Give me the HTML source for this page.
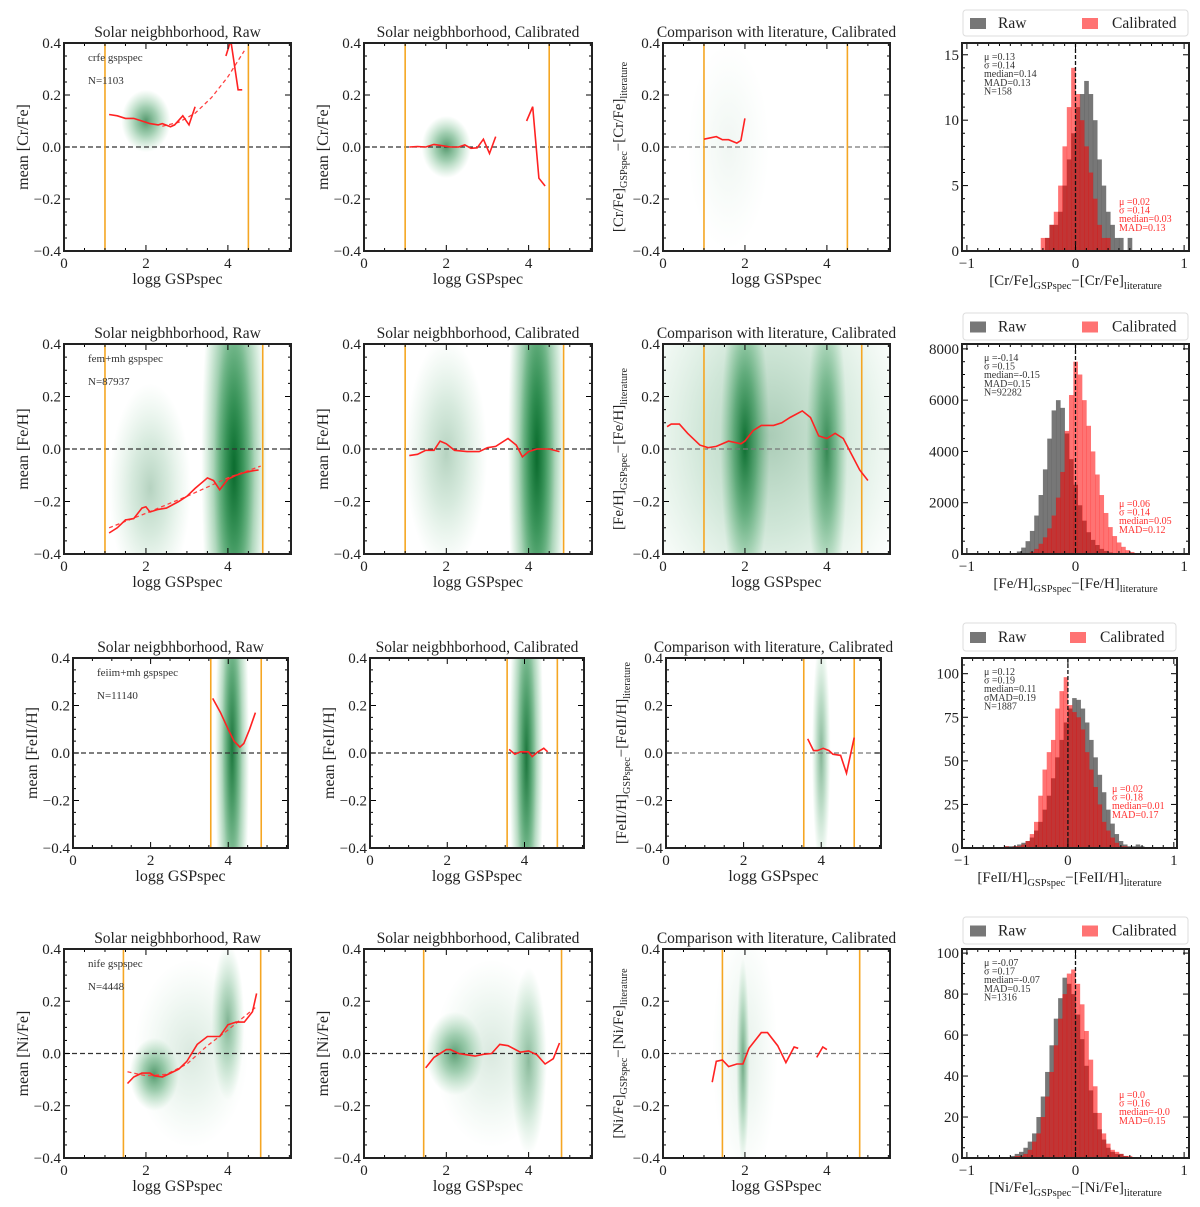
<!DOCTYPE html>
<html><head><meta charset="utf-8">
<style>
html,body{margin:0;padding:0;background:#fff;}
svg{display:block;font-family:"Liberation Serif",serif;}
</style></head>
<body>
<svg id="fig" width="1200" height="1207" viewBox="0 0 1200 1207" xmlns="http://www.w3.org/2000/svg">
<defs>
<radialGradient id="blob" cx="0.5" cy="0.5" r="0.5">
<stop offset="0" stop-color="#0b6b2e" stop-opacity="1"/>
<stop offset="0.45" stop-color="#1f8a45" stop-opacity="0.6"/>
<stop offset="1" stop-color="#4caf6a" stop-opacity="0"/>
</radialGradient>
</defs>
</svg>
<script>
// ---------- data ----------
const elements = ["Cr/Fe", "Fe/H", "FeII/H", "Ni/Fe"];
const sampleTags = ["crfe gspspec", "fem+mh gspspec", "feiim+mh gspspec", "nife gspspec"];
const sampleN = ["N=1103", "N=87937", "N=11140", "N=4448"];
const loggCuts = [[1.0, 4.5], [1.0, 4.85], [3.55, 4.85], [1.45, 4.8]];

const rawCurve = [
  [[[1.1,0.125],[1.3,0.12],[1.5,0.11],[1.7,0.11],[1.9,0.10],[2.1,0.09],[2.3,0.085],[2.4,0.09],[2.6,0.078],[2.7,0.085],[2.9,0.12],[3.05,0.085],[3.2,0.155]],[[3.95,0.35],[4.07,0.41],[4.25,0.22],[4.35,0.22]]],
  [[[1.1,-0.32],[1.3,-0.3],[1.5,-0.27],[1.7,-0.265],[1.9,-0.225],[2.0,-0.22],[2.1,-0.24],[2.3,-0.23],[2.5,-0.225],[2.8,-0.2],[3.0,-0.18],[3.2,-0.15],[3.5,-0.11],[3.65,-0.12],[3.8,-0.155],[4.0,-0.115],[4.2,-0.1],[4.4,-0.09],[4.6,-0.083],[4.75,-0.08]]],
  [[[3.6,0.23],[3.8,0.17],[4.0,0.1],[4.15,0.05],[4.3,0.025],[4.4,0.04],[4.55,0.1],[4.7,0.17]]],
  [[[1.55,-0.115],[1.7,-0.09],[1.9,-0.075],[2.1,-0.075],[2.2,-0.085],[2.4,-0.09],[2.6,-0.075],[2.8,-0.06],[3.0,-0.03],[3.25,0.035],[3.5,0.065],[3.8,0.065],[4.0,0.11],[4.2,0.12],[4.4,0.12],[4.6,0.16],[4.7,0.23]]]
];
const fitCurve = [
  [[2.4,0.08],[2.8,0.095],[3.2,0.13],[3.6,0.19],[4.0,0.27],[4.4,0.37]],
  [[1.1,-0.3],[2.0,-0.245],[3.0,-0.18],[4.0,-0.11],[4.8,-0.065]],
  [],
  [[1.55,-0.07],[2.0,-0.085],[2.5,-0.08],[3.0,-0.04],[3.5,0.03],[4.0,0.09],[4.7,0.18]]
];
const calCurve = [
  [[[1.1,0.0],[1.3,0.002],[1.5,0.0],[1.7,0.01],[1.9,0.005],[2.1,0.0],[2.3,0.0],[2.45,0.008],[2.6,-0.005],[2.75,-0.003],[2.9,0.03],[3.05,-0.025],[3.2,0.04]],[[3.95,0.1],[4.1,0.155],[4.25,-0.12],[4.4,-0.15]]],
  [[[1.1,-0.025],[1.3,-0.02],[1.5,-0.005],[1.7,-0.005],[1.85,0.03],[2.0,0.02],[2.2,-0.005],[2.5,-0.01],[2.8,-0.01],[3.0,0.005],[3.2,0.01],[3.5,0.04],[3.7,0.015],[3.85,-0.03],[4.0,-0.01],[4.2,0.0],[4.5,0.0],[4.75,-0.01]]],
  [[[3.6,0.015],[3.75,-0.005],[3.9,0.005],[4.1,0.005],[4.2,-0.015],[4.35,0.005],[4.5,0.02],[4.6,0.005]]],
  [[[1.5,-0.055],[1.7,-0.015],[1.9,0.005],[2.0,0.015],[2.1,0.015],[2.3,0.0],[2.5,-0.005],[2.7,-0.01],[2.9,-0.003],[3.1,0.0],[3.3,0.035],[3.5,0.03],[3.8,0.005],[4.0,0.01],[4.2,-0.005],[4.4,-0.04],[4.6,-0.02],[4.75,0.04]]]
];
const litCurve = [
  [[[1.0,0.03],[1.3,0.04],[1.45,0.028],[1.6,0.028],[1.8,0.015],[1.9,0.025],[2.0,0.11]]],
  [[[0.1,0.085],[0.2,0.095],[0.4,0.095],[0.6,0.06],[0.9,0.015],[1.1,0.005],[1.3,0.01],[1.6,0.03],[1.9,0.02],[2.0,0.03],[2.2,0.07],[2.4,0.09],[2.7,0.09],[2.9,0.1],[3.1,0.12],[3.4,0.145],[3.6,0.12],[3.8,0.05],[4.0,0.04],[4.2,0.06],[4.4,0.04],[4.6,-0.02],[4.8,-0.08],[5.0,-0.12]]],
  [[[3.65,0.06],[3.8,0.01],[3.9,0.01],[4.05,0.02],[4.2,0.01],[4.3,-0.005],[4.5,-0.01],[4.65,-0.085],[4.85,0.065]]],
  [[[1.2,-0.11],[1.3,-0.03],[1.45,-0.025],[1.6,-0.05],[1.8,-0.04],[1.95,-0.04],[2.1,0.02],[2.4,0.08],[2.55,0.08],[2.8,0.03],[3.0,-0.035],[3.2,0.025],[3.3,0.02]],[[3.75,-0.015],[3.9,0.025],[4.0,0.015]]]
];
// density clouds [logg, value, sigmaLogg, sigmaValue, opacity]
const rawCloud = [
  [[2.0,0.1,0.3,0.06,0.7]],
  [[2.1,-0.15,0.5,0.2,0.3],[4.15,-0.05,0.4,0.5,1.0],[4.15,-0.1,0.25,0.3,0.7]],
  [[4.1,0.0,0.22,0.5,0.85],[4.1,0.05,0.13,0.3,0.5]],
  [[2.2,-0.08,0.3,0.07,0.7],[4.0,0.12,0.2,0.15,0.5],[3.1,0.0,0.7,0.18,0.15]]
];
const calCloud = [
  [[2.0,0.0,0.3,0.06,0.7]],
  [[2.0,-0.02,0.5,0.22,0.3],[4.2,0.0,0.35,0.55,1.0],[4.2,-0.05,0.22,0.3,0.7]],
  [[4.05,0.0,0.22,0.5,0.85],[4.05,-0.05,0.13,0.3,0.5]],
  [[2.2,0.0,0.35,0.08,0.65],[4.0,-0.03,0.22,0.18,0.45],[3.1,0.0,0.7,0.18,0.15]]
];
const litCloud = [
  [[1.6,0.0,0.5,0.2,0.06]],
  [[2.0,0.02,0.3,0.3,1.0],[4.0,0.0,0.25,0.3,0.8],[2.6,0.05,1.8,0.4,0.35]],
  [[4.0,0.0,0.12,0.25,0.5]],
  [[1.95,-0.03,0.08,0.2,0.55],[2.0,0.0,0.4,0.25,0.1]]
];

// histograms
const histBinWidth = [0.04, 0.04, 0.04, 0.04];
const histBinStart = [-0.4, -0.70, -0.60, -0.60];
const histRaw = [
  [0,0,0,1,2,2,3,5,7,9,11,12,13,12,10,7,5,3,2,1,1,0,1,0,0],
  [0,0,0,20,100,250,500,900,1500,2300,3300,4500,5600,6000,5700,4700,3700,2700,1900,1300,850,550,350,200,120,60,30,10,0,0,0,0,0,0,0],
  [1,1,1,2,3,4,6,10,15,22,30,40,52,62,72,80,86,85,80,72,62,52,42,32,22,14,8,4,2,1,1,2,1,0,0],
  [1,2,3,5,8,12,20,30,42,55,68,78,88,85,80,70,58,45,33,22,14,9,5,3,2,2,1,0,0,0]
];
const histCal = [
  [0,0,1,1,2,3,5,8,11,14,12,10,8,6,4,2,1,1,0,0,0,0,0,0,0],
  [0,0,0,0,0,0,20,80,200,400,650,1000,1500,2200,3200,4800,6200,7500,7000,6000,5000,4000,3100,2300,1600,1050,700,450,280,150,80,30,10,0,0],
  [1,0,1,1,2,4,8,15,30,45,55,62,80,90,98,82,78,75,68,55,45,35,25,15,10,6,3,1,1,0,0,0,0,0,0],
  [0,1,1,2,4,8,12,20,30,42,55,68,80,90,92,85,75,62,48,35,22,12,7,4,3,2,1,1,0,0]
];
const histYMax = [15.9, 8190, 109, 102];
const histYTicks = [[0,5,10,15],[0,2000,4000,6000,8000],[0,25,50,75,100],[0,20,40,60,80,100]];
const histYMinor = [1, 500, 5, 5];
const rawStats = [
  ["μ =0.13","σ =0.14","median=0.14","MAD=0.13","N=158"],
  ["μ =-0.14","σ =0.15","median=-0.15","MAD=0.15","N=92282"],
  ["μ =0.12","σ =0.19","median=0.11","σMAD=0.19","N=1887"],
  ["μ =-0.07","σ =0.17","median=-0.07","MAD=0.15","N=1316"]
];
const calStats = [
  ["μ =0.02","σ =0.14","median=0.03","MAD=0.13"],
  ["μ =0.06","σ =0.14","median=0.05","MAD=0.12"],
  ["μ =0.02","σ =0.18","median=0.01","MAD=0.17"],
  ["μ =0.0","σ =0.16","median=-0.0","MAD=0.15"]
];
const yTickVals = [-0.4,-0.2,0.0,0.2,0.4];
const yTickLabels = ["−0.4","−0.2","0.0","0.2","0.4"];
const xTickVals = [0,2,4];

// ---------- layout ----------
const rowsY = [[43,251],[344,554],[658,848],[949,1158]];
const colsX = [
  [[64,291],[364,592],[663,890],[962,1189]],
  [[64,291],[364,592],[663,890],[962,1189]],
  [[73,288],[370,584],[666,881],[962,1177]],
  [[64,291],[364,592],[663,890],[962,1189]]
];
const histXRange = [[-1.045,1.045],[-1.045,1.045],[-1.0,1.03],[-1.045,1.045]];
const legendY = [[10,36],[313,340],[623,651],[917,944]];
const XMAX = 5.54;

const NS = "http://www.w3.org/2000/svg";
const svg = document.getElementById("fig");
function mk(tag, attrs, parent){
  const e = document.createElementNS(NS, tag);
  for (const k in attrs) e.setAttribute(k, attrs[k]);
  (parent||svg).appendChild(e);
  return e;
}
let clipId = 0;

function frameAndTicks(g, x0, x1, y0, y1, xs, ys, xMaj, xMin, yMaj, yMin, xr, yr){
  for (let v = Math.ceil(xr[0]/xMin)*xMin; v <= xr[1]+1e-9; v += xMin){
    const px = xs(v);
    const major = xMaj.some(m => Math.abs(m - v) < 1e-6);
    const L = major ? 6 : 3;
    const t1 = mk("line",{x1:px,x2:px,y1:y1,y2:y1-L,stroke:"#000","stroke-width":1},g);
    
    
    const t2 = mk("line",{x1:px,x2:px,y1:y0,y2:y0+L,stroke:"#000","stroke-width":1},g);
    
    
  }
  for (let v = Math.ceil(yr[0]/yMin - 1e-9)*yMin; v <= yr[1]+1e-9; v += yMin){
    const py = ys(v);
    const major = yMaj.some(m => Math.abs(m - v) < 1e-6);
    const L = major ? 6 : 3;
    const t1 = mk("line",{x1:x0,x2:x0+L,y1:py,y2:py,stroke:"#000","stroke-width":1},g);
    
    
    const t2 = mk("line",{x1:x1,x2:x1-L,y1:py,y2:py,stroke:"#000","stroke-width":1},g);
    
    
  }
  const fr = mk("rect",{x:x0,y:y0,width:x1-x0,height:y1-y0,fill:"none",stroke:"#222","stroke-width":2},g);
  
  
}

function linePath(pts, xs, ys){
  return pts.map((p,i)=>(i?"L":"M")+xs(p[0]).toFixed(1)+","+ys(p[1]).toFixed(1)).join(" ");
}

function ylabelText(g, x, yc, parts, fs){
  const t = mk("text",{x:0,y:0,"font-size":fs,"text-anchor":"middle",transform:`translate(${x},${yc}) rotate(-90)`,fill:"#222"},g);
  parts.forEach(p=>{
    const s = mk("tspan",{},t);
    if (p.sub){ s.setAttribute("font-size", fs*0.68); s.setAttribute("dy", 4); }
    else if (p.after){ s.setAttribute("dy", -4); }
    s.textContent = p.t;
  });
  return t;
}

function scatterPanel(r, c, title, clouds, curves, fit){
  const [x0,x1] = colsX[r][c], [y0,y1] = rowsY[r];
  const xs = v => x0 + (v/XMAX)*(x1-x0);
  const ys = v => y1 - (v+0.4)/0.8*(y1-y0);
  const g = mk("g",{});
  
  
  const cid = "clip"+(clipId++);
  const cp = mk("clipPath",{id:cid},g);
  mk("rect",{x:x0,y:y0,width:x1-x0,height:y1-y0},cp);
  const inner = mk("g",{"clip-path":`url(#${cid})`},g);
  clouds.forEach(b=>{
    const e = mk("ellipse",{cx:xs(b[0]),cy:ys(b[1]),rx:(xs(b[2])-xs(0))*2,ry:(ys(0)-ys(b[3]))*2,fill:"url(#blob)",opacity:b[4]},inner);
    
    
  });
  const z = mk("line",{x1:x0,x2:x1,y1:ys(0),y2:ys(0),stroke:c===2?"#777":"#333","stroke-width":1.3,"stroke-dasharray":"5,3"},inner);
  
  
  loggCuts[r].forEach(v=>{
    const l = mk("line",{x1:xs(v),x2:xs(v),y1:y0,y2:y1,stroke:"#f5a623","stroke-width":1.6},inner);
    
    
  });
  if (fit && fit.length){
    const f = mk("path",{d:linePath(fit,xs,ys),fill:"none",stroke:"#ff4040","stroke-width":1.3,"stroke-dasharray":"4,3"},inner);
    
    
  }
  curves.forEach(seg=>{
    const p = mk("path",{d:linePath(seg,xs,ys),fill:"none",stroke:"#f22","stroke-width":1.6},inner);
    
    
  });
  frameAndTicks(g,x0,x1,y0,y1,xs,ys,xTickVals,0.5,yTickVals,0.05,[0,XMAX],[-0.4,0.4]);
  yTickVals.forEach((v,i)=>{
    const t = mk("text",{x:x0-3,y:ys(v)+5,"font-size":15,"text-anchor":"end",fill:"#222"},g);
    
    
    t.textContent = yTickLabels[i];
  });
  xTickVals.forEach(v=>{
    const t = mk("text",{x:xs(v),y:y1+17,"font-size":15,"text-anchor":"middle",fill:"#222"},g);
    
    
    t.textContent = v;
  });
  const xl = mk("text",{x:(x0+x1)/2,y:y1+33,"font-size":16,"text-anchor":"middle",fill:"#222"},g);
  
  
  xl.textContent = "logg GSPspec";
  const tt = mk("text",{x:(x0+x1)/2,y:y0-6,"font-size":15.5,"text-anchor":"middle",fill:"#222"},g);
  
  
  tt.textContent = title;
  const el = elements[r];
  let yl;
  if (c < 2){
    yl = ylabelText(g, x0-36, (y0+y1)/2, [{t:"mean ["+el+"]"}], 16);
  } else {
    yl = ylabelText(g, x0-40, (y0+y1)/2, [{t:"["+el+"]"},{t:"GSPspec",sub:true},{t:"−["+el+"]",after:true},{t:"literature",sub:true}], 15);
  }
  
  
  if (c === 0){
    const a = mk("text",{x:x0+24,y:y0+18,"font-size":11,fill:"#333"},g);
    
    
    a.textContent = sampleTags[r];
    const b = mk("text",{x:x0+24,y:y0+41,"font-size":11,fill:"#333"},g);
    
    
    b.textContent = sampleN[r];
  }
}

function histPanel(r){
  const [x0,x1] = colsX[r][3], [y0,y1] = rowsY[r];
  const xr = histXRange[r], ym = histYMax[r];
  const xs = v => x0 + (v-xr[0])/(xr[1]-xr[0])*(x1-x0);
  const ys = v => y1 - v/ym*(y1-y0);
  const g = mk("g",{});
  
  
  const w = histBinWidth[r], s = histBinStart[r];
  histRaw[r].forEach((v,i)=>{
    if (!v) return;
    const b = mk("rect",{x:xs(s+i*w),y:ys(v),width:xs(s+(i+1)*w)-xs(s+i*w)+0.3,height:ys(0)-ys(v),fill:"#555","fill-opacity":0.8},g);
    
    
  });
  histCal[r].forEach((v,i)=>{
    if (!v) return;
    const b = mk("rect",{x:xs(s+i*w),y:ys(v),width:xs(s+(i+1)*w)-xs(s+i*w)+0.3,height:ys(0)-ys(v),fill:"#ff0000","fill-opacity":0.55},g);
    
    
  });
  const z = mk("line",{x1:xs(0),x2:xs(0),y1:y0,y2:y1,stroke:"#111","stroke-width":1.3,"stroke-dasharray":"4,2"},g);
  
  
  frameAndTicks(g,x0,x1,y0,y1,xs,ys,[-1,0,1],0.1,histYTicks[r],histYMinor[r],[-1,1],[0,ym]);
  histYTicks[r].forEach(v=>{
    const t = mk("text",{x:x0-3,y:ys(v)+5,"font-size":15,"text-anchor":"end",fill:"#222"},g);
    
    
    t.textContent = v;
  });
  [-1,0,1].forEach(v=>{
    const t = mk("text",{x:xs(v),y:y1+17,"font-size":15,"text-anchor":"middle",fill:"#222"},g);
    
    
    t.textContent = v<0?"−1":v;
  });
  const el = elements[r];
  const xl = mk("text",{x:(x0+x1)/2,y:y1+34,"font-size":15,"text-anchor":"middle",fill:"#222"},g);
  
  
  [["["+el+"]",0],["GSPspec",1],["−["+el+"]",2],["literature",1]].forEach(p=>{
    const sp = mk("tspan",{},xl);
    if (p[1]===1){ sp.setAttribute("font-size",10.5); sp.setAttribute("dy",4); }
    if (p[1]===2){ sp.setAttribute("dy",-4); }
    sp.textContent = p[0];
  });
  rawStats[r].forEach((t,i)=>{
    const e = mk("text",{x:x0+22,y:y0+17+i*8.6,"font-size":10,fill:"#333"},g);
    
    
    e.textContent = t;
  });
  const cy = [205,507,792,1098][r] - y0;
  calStats[r].forEach((t,i)=>{
    const e = mk("text",{x:x0+(r===2?150:157),y:y0+cy+i*8.6,"font-size":10,fill:"#ff3030"},g);
    
    
    e.textContent = t;
  });
  const [ly0,ly1] = legendY[r];
  const lg = mk("g",{},g);
  
  
  mk("rect",{x:x0+1,y:ly0,width:x1-x0-2,height:ly1-ly0,rx:3,fill:"#fff",stroke:"#ddd","stroke-width":1},lg);
  const pr = mk("rect",{x:x0+8,y:(ly0+ly1)/2-5,width:16,height:11,fill:"#555","fill-opacity":0.8},lg);
  
  
  const tr = mk("text",{x:x0+36,y:(ly0+ly1)/2+5,"font-size":15.5,fill:"#222"},lg);
  tr.textContent = "Raw";
  const cx = (r===2) ? x0+108 : x0+120;
  const pc = mk("rect",{x:cx,y:(ly0+ly1)/2-5,width:16,height:11,fill:"#ff0000","fill-opacity":0.55},lg);
  
  
  const tc = mk("text",{x:cx+30,y:(ly0+ly1)/2+5,"font-size":15.5,fill:"#222"},lg);
  tc.textContent = "Calibrated";
}

for (let r=0;r<4;r++){
  scatterPanel(r,0,"Solar neigbhborhood, Raw",rawCloud[r],rawCurve[r],fitCurve[r]);
  scatterPanel(r,1,"Solar neigbhborhood, Calibrated",calCloud[r],calCurve[r],null);
  scatterPanel(r,2,"Comparison with literature, Calibrated",litCloud[r],litCurve[r],null);
  histPanel(r);
}
</script>
</body></html>
